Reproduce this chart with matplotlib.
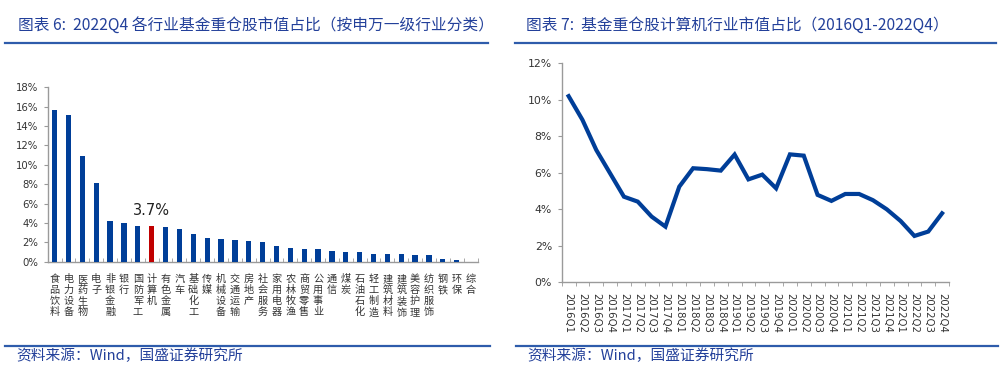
import matplotlib
matplotlib.use("Agg")
import matplotlib.pyplot as plt
from matplotlib.lines import Line2D
from matplotlib.ticker import FuncFormatter, MultipleLocator, FixedLocator
import numpy as np

plt.rcParams['font.family'] = ['DejaVu Sans', 'Noto Sans CJK SC']

# ---------------- data ----------------
industries = ["食品饮料", "电力设备", "医药生物", "电子", "非银金融", "银行", "国防军工",
              "计算机", "有色金属", "汽车", "基础化工", "传媒", "机械设备", "交通运输",
              "房地产", "社会服务", "家用电器", "农林牧渔", "商贸零售", "公用事业", "通信",
              "煤炭", "石油石化", "轻工制造", "建筑材料", "建筑装饰", "美容护理", "纺织服饰",
              "钢铁", "环保", "综合"]
share_2022q4 = [15.66, 15.10, 10.87, 8.16, 4.20, 3.96, 3.72, 3.70, 3.58, 3.37, 2.82,
                2.41, 2.34, 2.27, 2.13, 2.03, 1.62, 1.38, 1.34, 1.31, 1.14, 1.03,
                1.00, 0.79, 0.76, 0.76, 0.69, 0.65, 0.31, 0.21, 0.02]
highlight = "计算机"
highlight_label = "3.7%"

quarters = ["2016Q1", "2016Q2", "2016Q3", "2016Q4", "2017Q1", "2017Q2", "2017Q3", "2017Q4",
            "2018Q1", "2018Q2", "2018Q3", "2018Q4", "2019Q1", "2019Q2", "2019Q3", "2019Q4",
            "2020Q1", "2020Q2", "2020Q3", "2020Q4", "2021Q1", "2021Q2", "2021Q3", "2021Q4",
            "2022Q1", "2022Q2", "2022Q3", "2022Q4"]
computer_share = [10.2, 8.9, 7.25, 5.97, 4.69, 4.42, 3.6, 3.05, 5.24, 6.25, 6.2, 6.12,
                  7.0, 5.64, 5.9, 5.15, 7.01, 6.94, 4.79, 4.46, 4.84, 4.84, 4.5, 4.0,
                  3.36, 2.54, 2.78, 3.78]

title1 = "图表 6:  2022Q4 各行业基金重仓股市值占比（按申万一级行业分类）"
title2 = "图表 7:  基金重仓股计算机行业市值占比（2016Q1-2022Q4）"
source = "资料来源：Wind，国盛证券研究所"

# ---------------- style ----------------
BAR_BLUE = "#003e98"
RED = "#c00000"
LINE_BLUE = "#003e98"
TITLE_C = "#23409a"
RULE_C = "#2e5cab"
AXIS_C = "#9a9a9a"
TEXT_C = "#333333"
CJK = ['Noto Sans CJK SC', 'DejaVu Sans']

W, H = 1000, 370
fig = plt.figure(figsize=(W / 100, H / 100), dpi=100)


def fx(px):
    return px / W


def fy(py):
    return 1 - py / H


pct = FuncFormatter(lambda v, p: f"{v:.0f}%")

# ---------------- bar chart ----------------
ax1 = fig.add_axes([fx(47.7), fy(261.7), fx(477.5 - 47.7), fy(87.3) - fy(261.7)])
x = np.arange(len(industries))
colors = [RED if n == highlight else BAR_BLUE for n in industries]
ax1.bar(x, share_2022q4, width=0.38, color=colors, zorder=3)
ax1.set_xlim(-0.5, len(industries) - 0.5)
ax1.set_ylim(0, 18)
ax1.yaxis.set_major_locator(MultipleLocator(2))
ax1.yaxis.set_major_formatter(pct)
hi = industries.index(highlight)
ax1.annotate(highlight_label, (x[hi], share_2022q4[hi]), xytext=(0, 6),
             textcoords="offset points", ha="center", va="bottom",
             fontsize=10.5, color="#222222")
ax1.set_xticks(x)
ax1.set_xticklabels(["\n".join(n) for n in industries], family=CJK,
                    fontsize=7.3, color=TEXT_C, linespacing=1.12, va="top")
ax1.xaxis.set_minor_locator(FixedLocator(np.arange(-0.5, len(industries), 1)))
ax1.tick_params(axis="x", which="major", length=0, pad=9)
ax1.tick_params(axis="x", which="minor", length=3, direction="in", color=AXIS_C)
ax1.tick_params(axis="y", length=3, color=AXIS_C, labelsize=7.3, labelcolor=TEXT_C, pad=4)
for s in ["top", "right"]:
    ax1.spines[s].set_visible(False)
for s in ["left", "bottom"]:
    ax1.spines[s].set_color(AXIS_C)
    ax1.spines[s].set_linewidth(1.0)

# ---------------- line chart ----------------
ax2 = fig.add_axes([fx(561.7), fy(282.3), fx(949 - 561.7), fy(63.3) - fy(282.3)])
xq = np.arange(len(quarters))
ax2.plot(xq, computer_share, color=LINE_BLUE, lw=3, solid_joinstyle="miter", zorder=3)
ax2.set_xlim(-0.5, len(quarters) - 0.5)
ax2.set_ylim(0, 12)
ax2.yaxis.set_major_locator(MultipleLocator(2))
ax2.yaxis.set_major_formatter(pct)
ax2.set_xticks(xq)
ax2.set_xticklabels(quarters, rotation=-90, fontsize=7.3, color=TEXT_C, va="top", ha="center")
ax2.xaxis.set_minor_locator(FixedLocator(np.arange(-0.5, len(quarters), 1)))
ax2.tick_params(axis="x", which="major", length=0, pad=8)
ax2.tick_params(axis="x", which="minor", length=3, direction="out", color=AXIS_C)
ax2.tick_params(axis="y", length=3, color=AXIS_C, labelsize=7.8, labelcolor=TEXT_C, pad=4)
for s in ["top", "right"]:
    ax2.spines[s].set_visible(False)
for s in ["left", "bottom"]:
    ax2.spines[s].set_color(AXIS_C)
    ax2.spines[s].set_linewidth(1.0)

# ---------------- titles, rules, sources ----------------
fig.text(fx(18), fy(25), title1, family=CJK, fontsize=11.3, color=TITLE_C,
         style="italic", ha="left", va="center")
fig.text(fx(526), fy(25), title2, family=CJK, fontsize=11.3, color=TITLE_C,
         style="italic", ha="left", va="center")
for x0, x1 in [(5, 488), (515, 996)]:
    fig.add_artist(Line2D([fx(x0), fx(x1)], [fy(43), fy(43)], color=RULE_C, lw=1.6))
for x0, x1 in [(5, 490), (516, 998)]:
    fig.add_artist(Line2D([fx(x0), fx(x1)], [fy(345.5), fy(345.5)], color=RULE_C, lw=1.6))
fig.text(fx(16), fy(356), source, family=CJK, fontsize=10.6, color=TITLE_C,
         style="italic", ha="left", va="center")
fig.text(fx(527), fy(356), source, family=CJK, fontsize=10.6, color=TITLE_C,
         style="italic", ha="left", va="center")

fig.savefig("out.png", dpi=100, facecolor="white")
